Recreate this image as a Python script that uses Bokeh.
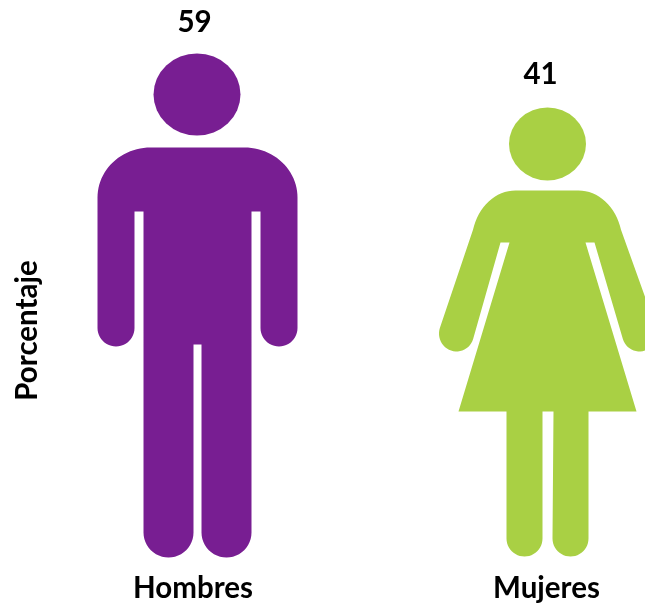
import math
from bokeh.plotting import figure
from bokeh.core.properties import value
from bokeh.embed import file_html
from bokeh.resources import INLINE

categories = ["Hombres", "Mujeres"]
percent = [59, 41]
axis_title = "Porcentaje"
colors = ["#781E92", "#A9D044"]

FONT = value("Lato")
W, H = 645, 603


def arc(cx, cy, rx, ry, a0, a1, n=24):
    pts = []
    for i in range(n + 1):
        a = math.radians(a0 + (a1 - a0) * i / n)
        pts.append((cx + rx * math.cos(a), cy + ry * math.sin(a)))
    return pts


def man_outline():
    pts = []
    pts += arc(150, 197, 53, 50, 180, 270)
    pts += arc(244, 197, 53, 50, 270, 360)
    pts += arc(278.5, 327.5, 18.5, 18.5, 0, 180)
    pts += [(260, 211), (251, 211)]
    pts += arc(226, 532, 25, 25, 0, 180)
    pts += [(201, 344), (193, 344)]
    pts += arc(168, 532, 25, 25, 0, 180)
    pts += [(143, 211), (134, 211)]
    pts += arc(115.5, 327.5, 18.5, 18.5, 0, 180)
    return pts


def woman_outline():
    pts = []
    pts += arc(515, 243, 44, 53, 195, 270, 16)
    pts += arc(578, 243, 44, 53, 270, 345, 16)
    pts += arc(639, 333, 17.5, 18, -18, 162, 24)
    pts += [(594, 242), (585, 242), (636, 411), (588, 411)]
    pts += arc(570, 538, 18, 18, 0, 180)
    pts += [(553, 411), (542, 411)]
    pts += arc(524, 538, 18, 18, 0, 180)
    pts += [(506, 411), (458, 411), (509, 242), (500, 242)]
    pts += arc(456, 333, 17.5, 18, 18, 198, 24)
    return pts


p = figure(width=W, height=H, x_range=(0, W), y_range=(H, 0),
           output_backend="svg", toolbar_location=None,
           min_border=0, background_fill_color="white")
p.axis.visible = False
p.grid.visible = False
p.outline_line_color = None
p.styles = {"position": "fixed", "left": "0", "top": "0"}

outlines = [man_outline(), woman_outline()]
heads = [(196.5, 94, 87, 82), (547, 143.5, 77, 73)]
for outline, head, color in zip(outlines, heads, colors):
    p.patch([q[0] for q in outline], [q[1] for q in outline],
            fill_color=color, line_color=None)
    p.ellipse(x=[head[0]], y=[head[1]], width=head[2], height=head[3],
              fill_color=color, line_color=None)

label_x = [192.5, 546]
value_pos = [(194, 20), (540, 72)]
for cat, val, lx, (vx, vy) in zip(categories, percent, label_x, value_pos):
    p.text(x=[lx], y=[586], text=[cat], text_font=FONT, text_font_style="bold",
           text_font_size="29.5px", text_color="#000000",
           text_align="center", text_baseline="middle")
    p.text(x=[vx], y=[vy], text=[str(val)], text_font=FONT,
           text_font_style="bold", text_font_size="29.5px", text_color="#000000",
           text_align="center", text_baseline="middle")

p.text(x=[25], y=[330], text=[axis_title], angle=math.pi / 2, text_font=FONT,
       text_font_style="bold", text_font_size="29.5px", text_color="#000000",
       text_align="center", text_baseline="middle")

open("out.html", "w").write(file_html(p, INLINE))
